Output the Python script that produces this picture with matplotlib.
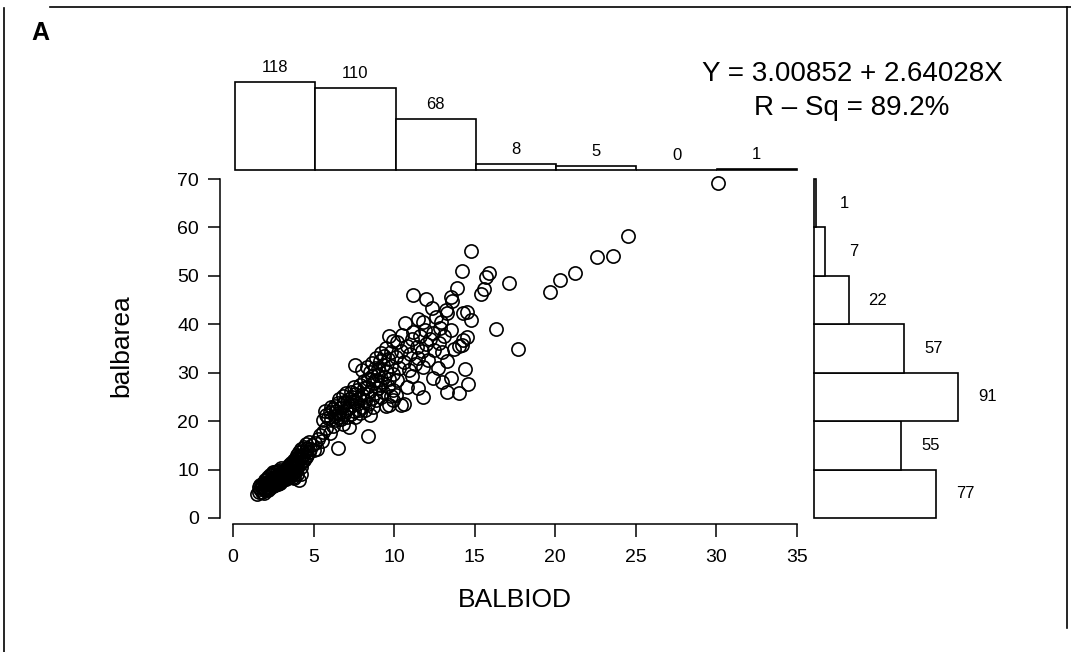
import matplotlib
matplotlib.use('Agg')
import matplotlib.pyplot as plt
from matplotlib.lines import Line2D

plt.rcParams['font.family'] = ['Liberation Sans', 'DejaVu Sans']

# scatter data (x = BALBIOD, y = balbarea)
balbiod = [
    1.5, 1.6, 1.6, 1.7, 1.7, 1.8, 1.8, 1.8, 1.9, 1.9, 2.0, 2.0, 2.0, 2.1, 2.1, 2.1, 2.2, 2.2, 2.2, 2.3,
    2.3, 2.3, 2.4, 2.4, 2.4, 2.5, 2.5, 2.5, 2.6, 2.6, 2.6, 2.7, 2.7, 2.7, 2.8, 2.8, 2.8, 2.9, 2.9, 2.9,
    3.0, 3.0, 3.0, 3.1, 3.1, 3.1, 3.2, 3.2, 3.2, 3.3, 3.3, 3.3, 3.4, 3.4, 3.5, 3.5, 3.6, 3.6, 3.7, 3.7,
    3.8, 3.8, 3.9, 4.0, 4.1, 2.0, 2.3, 2.6, 1.9, 2.2, 2.5, 2.8, 3.0, 3.3, 3.6, 4.2, 2.9,
    3.3, 3.4, 3.5, 3.5, 3.6, 3.6, 3.7, 3.7, 3.8, 3.8, 3.8, 3.9, 3.9, 3.9, 4.0, 4.0, 4.0, 4.0, 4.1, 4.1,
    4.1, 4.1, 4.2, 4.2, 4.2, 4.3, 4.3, 4.3, 4.4, 4.4, 4.4, 4.5, 4.5, 4.5, 4.6, 4.6, 4.7, 4.7, 4.8, 4.9,
    3.0,
    5.05, 5.1, 5.2, 5.3, 5.4, 5.5, 5.6, 5.8, 6.0, 6.2, 6.5, 6.8, 7.2, 8.4,
    5.6, 5.8, 5.9, 6.0, 6.1, 6.2, 6.3, 6.3, 6.4, 6.4, 6.5, 6.5, 6.6, 6.6, 6.7, 6.7, 6.8, 6.8, 6.9, 6.9,
    7.0, 7.0, 7.1, 7.1, 7.2, 7.2, 7.3, 7.3, 7.4, 7.4, 7.5, 7.5, 7.5, 7.6, 7.6, 7.7, 7.7, 7.8, 7.8, 7.9,
    7.9, 8.0, 8.0, 8.1, 8.1, 8.2, 8.2, 8.3, 8.3, 8.4, 8.4, 8.5, 8.5, 8.6, 8.6, 8.7, 8.7, 8.8, 8.8, 8.9,
    9.0, 9.0, 9.1, 9.2, 9.2, 9.3, 9.4, 9.5, 9.6, 9.7, 9.7, 9.8, 9.9, 9.9, 9.95, 6.1, 5.7,
    8.0, 8.3, 8.5, 8.6, 8.8, 8.9, 9.0, 9.1, 9.2, 9.3, 9.4, 9.5, 9.5, 9.6, 9.7, 9.8, 9.8, 9.9, 7.6,
    14.8, 14.2,
    11.2, 12.0, 12.35, 13.9, 13.5, 13.6, 14.3, 14.8, 13.3, 10.7, 11.8, 12.9, 13.2, 14.5, 12.6, 11.5,
    10.2, 10.1, 10.3, 10.4, 10.5, 10.6, 10.8, 10.9, 11.0, 11.1, 11.2, 11.3, 11.4, 11.5, 11.6, 11.7, 11.8, 11.9,
    12.0, 12.1, 12.2, 12.4, 12.5, 12.7, 12.8, 12.85, 13.0, 13.1, 13.3, 13.5, 13.7, 14.0, 14.2, 14.3, 14.5, 14.4,
    10.1, 10.2, 10.4, 10.6, 10.8, 11.1, 11.5, 11.8, 12.4, 13.0, 13.5, 13.3, 14.0, 14.6,
    19.7, 17.7, 17.1, 16.3, 15.9, 15.7, 15.6, 15.4,
    24.5, 23.6, 22.6, 21.2, 20.3,
    30.1,
]
balbarea = [
    4.9, 5.3, 6.3, 5.9, 6.8, 5.4, 6.4, 7.1, 6.0, 7.3, 6.2, 6.9, 7.8, 6.5, 7.2, 8.1, 6.4, 7.5, 8.4, 6.9,
    7.7, 8.8, 7.0, 8.0, 9.1, 7.3, 8.3, 9.4, 7.5, 8.5, 9.6, 7.8, 8.7, 9.8, 7.4, 8.9, 9.7, 8.2, 9.0, 9.9,
    8.0, 8.8, 9.5, 7.9, 8.6, 9.3, 8.3, 9.1, 9.8, 8.7, 9.4, 9.9, 8.9, 9.6, 8.5, 9.2, 9.0, 9.7, 8.4, 9.5,
    8.2, 9.3, 9.8, 9.1, 7.8, 5.7, 6.2, 6.8, 5.1, 5.8, 6.6, 7.0, 7.6, 8.1, 8.6, 9.0, 7.2,
    10.2, 10.5, 10.1, 10.9, 10.4, 11.3, 10.7, 11.6, 10.3, 11.1, 12.0, 10.8, 11.7, 12.4, 10.5, 11.4, 12.2, 13.0, 11.0, 11.9,
    12.8, 13.6, 10.6, 12.3, 14.2, 11.5, 12.9, 13.8, 12.0, 13.3, 14.7, 12.6, 13.9, 15.2, 13.1, 14.4, 13.7, 15.6, 14.3, 15.0,
    10.4,
    14.1, 15.5, 14.2, 16.3, 17.2, 16.0, 17.8, 18.6, 17.5, 19.0, 14.5, 19.4, 18.8, 16.9,
    20.3, 21.2, 20.6, 21.8, 20.4, 22.5, 21.0, 23.1, 20.2, 22.0, 23.8, 20.9, 21.6, 24.5, 22.8, 20.5, 23.5, 25.2, 21.4, 24.0,
    22.2, 25.8, 20.8, 23.9, 22.7, 24.6, 21.5, 26.1, 23.3, 25.0, 22.0, 24.2, 27.0, 20.9, 25.6, 23.6, 26.5, 22.4, 24.8, 27.5,
    21.7, 25.3, 23.0, 26.8, 28.2, 24.1, 22.3, 27.1, 25.7, 23.5, 28.8, 26.2, 21.3, 24.7, 29.4, 27.8, 22.9, 25.9, 28.5, 24.3,
    26.9, 29.6, 27.4, 24.9, 28.0, 26.0, 29.1, 23.2, 27.3, 23.3, 28.6, 25.1, 29.8, 26.4, 24.4, 23.0, 22.1,
    30.5, 31.2, 30.2, 32.0, 31.0, 33.1, 30.8, 32.4, 34.0, 31.5, 33.5, 30.4, 35.2, 32.8, 37.5, 34.3, 31.3, 36.6, 31.6,
    55.1, 51.0,
    46.0, 45.2, 43.4, 47.5, 45.6, 44.8, 42.3, 40.9, 42.3, 40.2, 40.5, 40.4, 43.0, 42.6, 41.5, 41.0,
    36.3, 33.2, 31.0, 34.5, 37.8, 32.2, 35.6, 30.6, 33.8, 36.9, 38.4, 31.7, 35.3, 33.0, 37.5, 34.4, 31.2, 38.8,
    35.9, 32.6, 37.0, 38.2, 34.7, 31.0, 36.2, 39.2, 34.3, 37.6, 32.5, 38.9, 35.0, 35.6, 35.7, 36.8, 37.4, 30.7,
    25.5, 28.4, 23.3, 23.6, 27.0, 29.3, 26.8, 25.0, 28.9, 28.1, 28.9, 26.0, 25.8, 27.6,
    46.6, 34.8, 48.6, 39.0, 50.6, 49.8, 47.3, 46.2,
    58.2, 54.1, 53.8, 50.5, 49.2,
    69.2,
]

# marginal histograms (counts printed on the chart)
x_bins = [0, 5, 10, 15, 20, 25, 30]
x_counts = [118, 110, 68, 8, 5, 0, 1]
y_bins = [0, 10, 20, 30, 40, 50, 60]
y_counts = [77, 55, 91, 57, 22, 7, 1]

W, H = 1071, 652
fig = plt.figure(figsize=(W / 100, H / 100), dpi=100)


def box(x0, y0, x1, y1):
    # pixel box (top-left origin) -> figure fraction rect
    return [x0 / W, 1 - y1 / H, (x1 - x0) / W, (y1 - y0) / H]


# main scatter
ax = fig.add_axes(box(233, 179, 797, 518))
ax.plot(balbiod, balbarea, 'o', mfc='none', mec='black', ms=9.5, mew=1.2, clip_on=False)
ax.set_xlim(0, 35)
ax.set_ylim(0, 70)
ax.spines['top'].set_visible(False)
ax.spines['right'].set_visible(False)
ax.spines['left'].set_position(('outward', 9.5))
ax.spines['bottom'].set_position(('outward', 4.5))
ax.spines['left'].set_bounds(0, 70)
ax.spines['bottom'].set_bounds(0, 35)
for s in ['left', 'bottom']:
    ax.spines[s].set_linewidth(1.1)
ax.set_xticks(range(0, 36, 5))
ax.set_yticks(range(0, 71, 10))
ax.tick_params(axis='x', length=9, width=1.1, pad=9, labelsize=14)
ax.tick_params(axis='y', length=9, width=1.1, pad=6, labelsize=14)

fig.text(515 / W, 1 - 600 / H, 'BALBIOD', ha='center', va='center', size=19)
fig.text(121 / W, 1 - 346 / H, 'balbarea', ha='center', va='center', size=19, rotation=90)

# top histogram
axt = fig.add_axes(box(235, 82, 797, 170))
axt.bar(x_bins, x_counts, width=5, align='edge', color='white', edgecolor='black', lw=1.2, clip_on=False)
for b, c in zip(x_bins, x_counts):
    axt.annotate(str(c), (b + 2.5, c), xytext=(0, 5), textcoords='offset points',
                 ha='center', va='bottom', size=12)
axt.set_xlim(0, 35)
axt.set_ylim(0, 118)
axt.axis('off')

# right histogram
axr = fig.add_axes(box(814, 179, 958, 518))
axr.barh(y_bins, y_counts, height=10, align='edge', color='white', edgecolor='black', lw=1.2, clip_on=False)
for b, c in zip(y_bins, y_counts):
    axr.annotate(str(c), (c, b + 5), xytext=(21, 0), textcoords='offset points',
                 ha='center', va='center', size=12)
axr.set_xlim(0, 91)
axr.set_ylim(0, 70)
axr.axis('off')

# regression text
fig.text(852 / W, 1 - 74 / H, 'Y = 3.00852 + 2.64028X', ha='center', va='center', size=20)
fig.text(852 / W, 1 - 108 / H, 'R \u2013 Sq = 89.2%', ha='center', va='center', size=20)

fig.text(40 / W, 1 - 33 / H, 'A', ha='center', va='center', size=18, weight='bold')

# panel frame
fig.add_artist(Line2D([4 / W, 4 / W], [1 - 8 / H, 0], color='black', lw=1.2))
fig.add_artist(Line2D([50 / W, 1], [1 - 7 / H, 1 - 7 / H], color='black', lw=1.2))
fig.add_artist(Line2D([1067 / W, 1067 / W], [1 - 7 / H, 1 - 628 / H], color='black', lw=1.2))

plt.savefig('out.png', dpi=100)
